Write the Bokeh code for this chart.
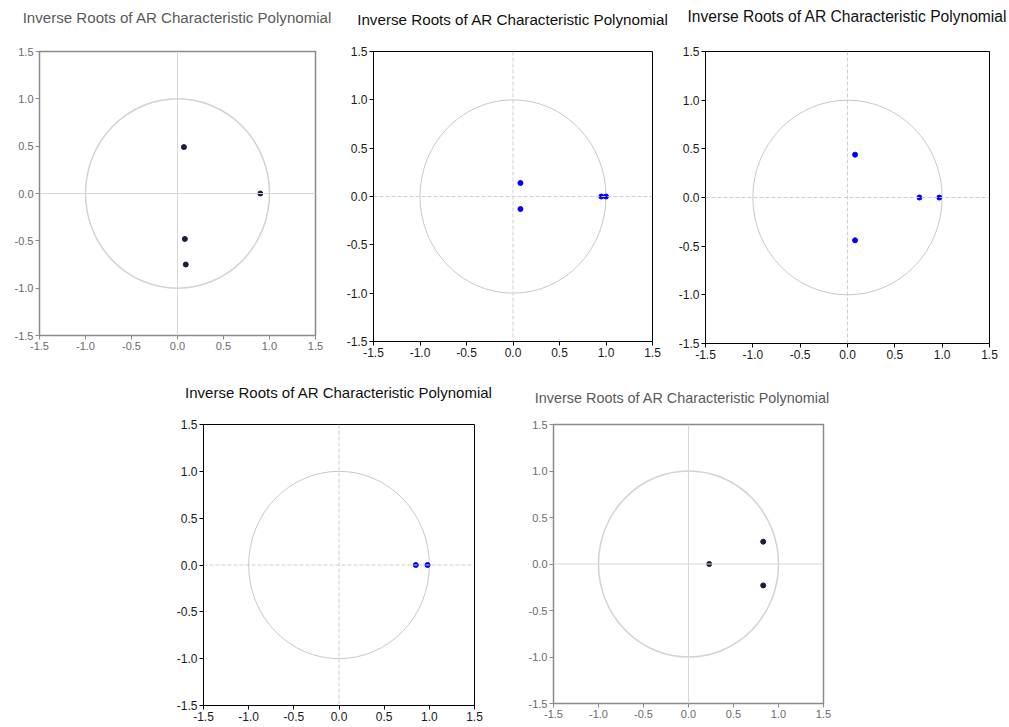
from bokeh.plotting import figure
from bokeh.layouts import column, row
from bokeh.models import Range1d, FixedTicker, Span, Spacer, Div
from bokeh.embed import file_html
from bokeh.resources import INLINE

TITLE = "Inverse Roots of AR Characteristic Polynomial"
tick_values = [-1.5, -1.0, -0.5, 0.0, 0.5, 1.0, 1.5]
tick_labels = ["-1.5", "-1.0", "-0.5", "0.0", "0.5", "1.0", "1.5"]

p1_re = [0.07, 0.90, 0.08, 0.09]
p1_im = [0.49, 0.00, -0.48, -0.75]
p2_re = [0.08, 0.08, 0.95, 1.00]
p2_im = [0.14, -0.13, 0.00, 0.00]
p3_re = [0.08, 0.08, 0.76, 0.97]
p3_im = [0.44, -0.44, 0.00, 0.00]
p4_re = [0.85, 0.98]
p4_im = [0.00, 0.00]
p5_re = [0.23, 0.83, 0.83]
p5_im = [0.00, 0.24, -0.23]


def make(re, im, fw, fh, bl, br, bt, bb, faded=False):
    axis_col = "#8a8a8a" if faded else "#000000"
    text_col = "#6a6a6a" if faded else "#1a1a1a"
    pt_col = "#1c1c40" if faded else "#0000ff"
    p = figure(frame_width=fw, frame_height=fh, output_backend="svg",
               toolbar_location=None, x_range=Range1d(-1.5, 1.5),
               y_range=Range1d(-1.5, 1.5),
               min_border_left=bl, min_border_right=br,
               min_border_top=bt, min_border_bottom=bb, margin=0)
    p.grid.grid_line_color = None
    p.outline_line_color = axis_col
    p.outline_line_width = 1.5 if faded else 1
    for ax in (p.xaxis[0], p.yaxis[0]):
        ax.ticker = FixedTicker(ticks=tick_values)
        ax.major_label_overrides = {v: s for v, s in zip(tick_values, tick_labels)}
        ax.minor_tick_line_color = None
        ax.major_tick_in = 0
        ax.major_tick_out = 4
        ax.major_label_standoff = 2
        ax.axis_line_color = axis_col
        ax.major_tick_line_color = axis_col
        ax.major_label_text_font = "Liberation Sans"
        ax.major_label_text_font_size = "11px" if faded else "12px"
        ax.major_label_text_color = text_col
    dash = "solid" if faded else "4 2"
    cross_col = "#d8d8d8" if faded else "#cfcfcf"
    p.add_layout(Span(location=0, dimension="width", line_color=cross_col,
                      line_dash=dash, line_width=1))
    p.add_layout(Span(location=0, dimension="height", line_color=cross_col,
                      line_dash=dash, line_width=1))
    p.ellipse(x=[0], y=[0], width=[2], height=[2], fill_color=None,
              line_color="#d2d2d2" if faded else "#c8c8c8",
              line_width=1.5 if faded else 1)
    p.scatter(re, im, size=5, color=pt_col)
    return p


def title_div(width, height, pad, top, size, faded=False):
    color = "#5a5a5a" if faded else "#111111"
    html = ('<div style="position:absolute; left:%dpx; top:%dpx; width:%dpx; '
            'text-align:center; white-space:nowrap; font-family:\'Liberation Sans\'; '
            'font-size:%s; line-height:18px; color:%s;">%s</div>'
            % (pad, top, width - pad, size, color, TITLE))
    return Div(text=html, width=width, height=height, margin=0,
               styles={"position": "relative", "overflow": "visible"})


# row 1
f1 = make(p1_re, p1_im, 276, 284, 39, 27, 21, 27, faded=True)
f2 = make(p2_re, p2_im, 279, 290, 31, 22, 21, 21)
f3 = make(p3_re, p3_im, 284, 292, 31, 18, 21, 19)
t1 = title_div(342, 30, 12, 9, "15.1px", faded=True)
t2 = title_div(332, 30, 9, 11, "15.2px")
t3 = title_div(333, 30, 13, 8, "15.6px")

# row 2
f4 = make(p4_re, p4_im, 271, 281, 31, 48, 16, 21)
f5 = make(p5_re, p5_im, 270, 279, 31, 10, 16, 23, faded=True)
t4 = title_div(350, 46, -17, 22, "15px")
t5 = title_div(311, 46, 9, 27, "14.4px", faded=True)

layout = column(
    row(t1, t2, t3, margin=0),
    row(f1, f2, f3, margin=0),
    row(Spacer(width=172, height=46, margin=0), t4, t5, margin=0),
    row(Spacer(width=172, height=10, margin=0), f4, f5, margin=0),
    margin=0,
)
open("out.html", "w").write(file_html(layout, INLINE))
